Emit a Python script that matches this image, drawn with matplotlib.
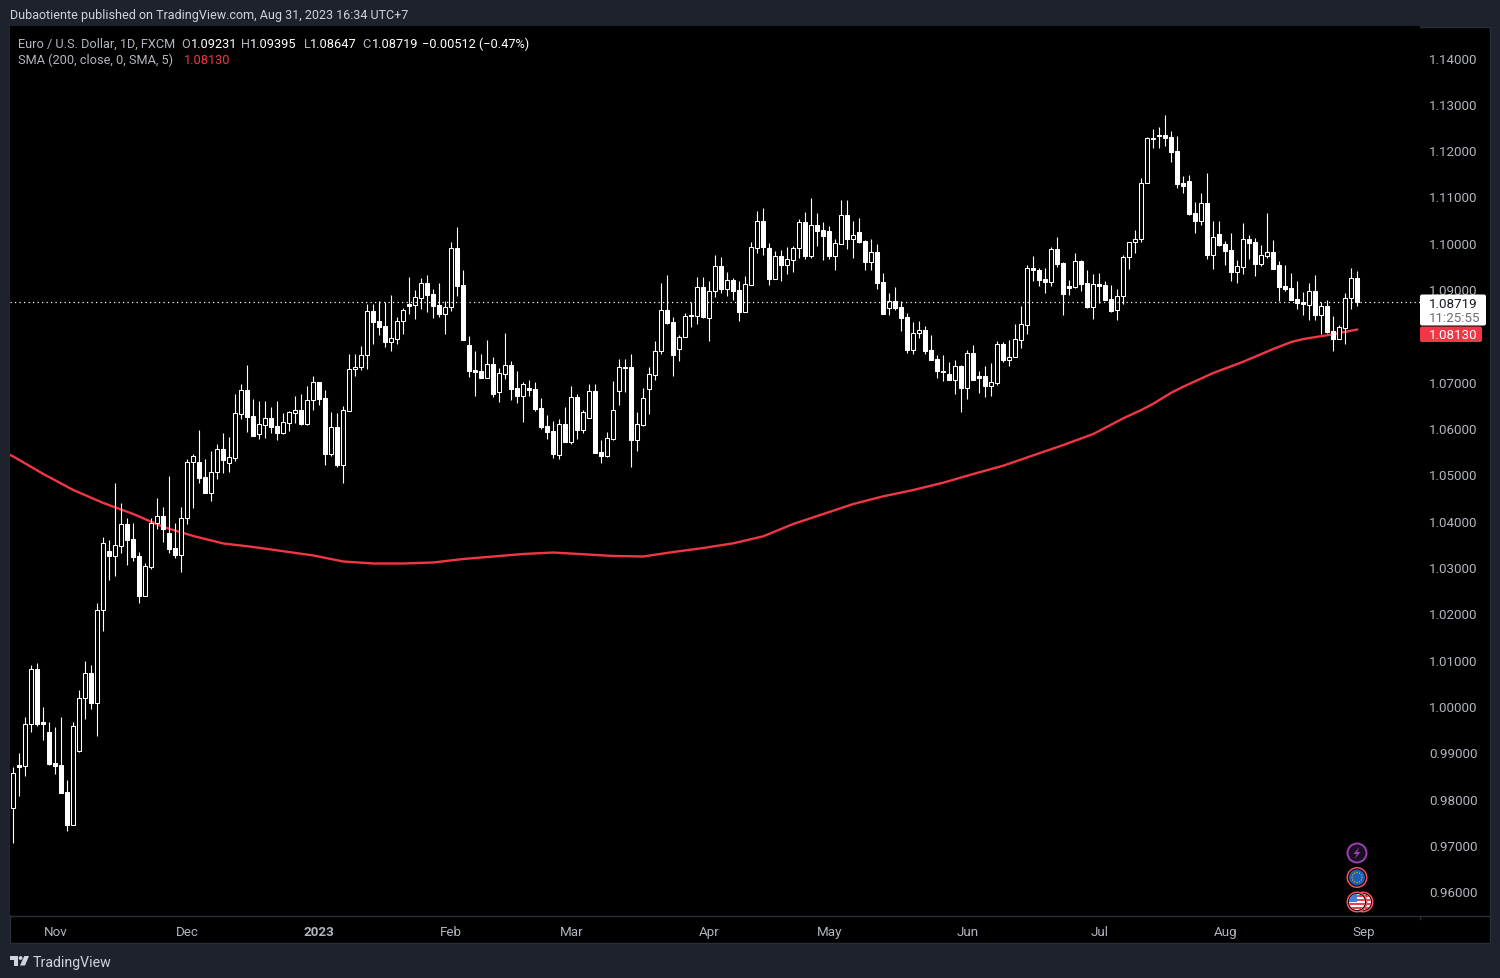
import matplotlib
matplotlib.use("Agg")
import matplotlib.pyplot as plt
from matplotlib.patches import Rectangle, Circle, Polygon, FancyBboxPatch

opens = [0.97810,0.98723,0.98716,0.99608,1.00795,0.99651,0.99436,0.98767,0.98723,0.98141,
0.97443,0.99040,1.00169,1.00709,1.00076,1.02069,1.03342,1.03248,1.03464,1.03925,
1.03601,1.03234,1.02385,1.03011,1.03946,1.04097,1.03730,1.03407,1.03270,1.04054,
1.05263,1.05263,1.04939,1.04608,1.05047,1.05543,1.05256,1.05363,1.06313,1.06816,
1.06255,1.05881,1.06075,1.06212,1.06039,1.05903,1.06118,1.06334,1.06385,1.06097,
1.06600,1.06989,1.06644,1.05449,1.06018,1.05212,1.06377,1.07270,1.07327,1.07572,
1.08521,1.08305,1.08198,1.07867,1.07931,1.08305,1.08672,1.08665,1.08816,1.09126,
1.08888,1.08651,1.08471,1.08608,1.09881,1.09082,1.07787,1.07248,1.07226,1.07090,
1.07377,1.06788,1.07176,1.07356,1.06859,1.06701,1.06859,1.06838,1.06428,1.06039,
1.05931,1.05428,1.06082,1.05708,1.06665,1.05967,1.06226,1.06795,1.05478,1.05406,
1.05773,1.06809,1.07313,1.07313,1.05752,1.06075,1.06852,1.07154,1.07658,1.08543,
1.08284,1.07716,1.07960,1.08435,1.08428,1.09040,1.08385,1.08953,1.09493,1.09011,
1.09191,1.08975,1.08515,1.09097,1.09896,1.10464,1.09881,1.09227,1.09709,1.09529,
1.09637,1.09896,1.10443,1.09723,1.10378,1.10270,1.10248,1.09723,1.09982,1.10594,
1.10090,1.10227,1.10033,1.09594,1.09795,1.09148,1.08601,1.08738,1.08608,1.08392,
1.07694,1.08047,1.08111,1.07680,1.07485,1.07241,1.07162,1.07046,1.07334,1.06874,
1.07615,1.07118,1.07118,1.06917,1.06982,1.07809,1.07464,1.07543,1.07910,1.08233,
1.09449,1.09406,1.09212,1.09162,1.09859,1.09557,1.09061,1.09054,1.09600,1.09126,
1.08622,1.09104,1.09082,1.08780,1.08543,1.08859,1.09687,1.10010,1.10075,1.11284,
1.12262,1.12327,1.12327,1.12277,1.11974,1.11284,1.11327,1.10636,1.10478,1.10852,
1.09744,1.10183,1.09967,1.09838,1.09377,1.09485,1.10075,1.10010,1.09550,1.09723,
1.09795,1.09514,1.09061,1.09018,1.08780,1.08715,1.08651,1.08953,1.08449,1.08629,
1.08090,1.07931,1.08169,1.08802,1.09231]

closes = [0.98551,0.98695,0.99608,1.00795,0.99615,0.99623,0.98759,0.98716,0.98134,0.97443,
0.99565,1.00169,1.00709,1.00076,1.02069,1.03515,1.03248,1.03471,1.03925,1.03594,
1.03227,1.02385,1.03018,1.03946,1.04097,1.03831,1.03400,1.03270,1.04054,1.05263,
1.05392,1.04932,1.04608,1.05047,1.05543,1.05320,1.05371,1.06320,1.06816,1.06241,
1.05838,1.06082,1.06212,1.06032,1.05903,1.06126,1.06341,1.06385,1.06097,1.06600,
1.06989,1.06629,1.05449,1.06018,1.05205,1.06385,1.07270,1.07327,1.07572,1.08521,
1.08298,1.08190,1.07867,1.07939,1.08305,1.08543,1.08644,1.08823,1.09126,1.08881,
1.08644,1.08471,1.08608,1.09881,1.09075,1.07910,1.07241,1.07219,1.07090,1.07377,
1.06744,1.07183,1.07356,1.06852,1.06701,1.06946,1.06831,1.06421,1.06032,1.05924,
1.05449,1.06082,1.05708,1.06665,1.05967,1.06341,1.06795,1.05471,1.05406,1.05780,
1.06385,1.07313,1.07298,1.05752,1.06082,1.06644,1.07162,1.07658,1.08543,1.08277,
1.07586,1.07960,1.08413,1.08413,1.09039,1.08407,1.08953,1.09493,1.09011,1.09191,
1.08968,1.08515,1.09105,1.09903,1.10464,1.09917,1.09227,1.09709,1.09529,1.09644,
1.09881,1.10443,1.09723,1.10378,1.10263,1.10155,1.09723,1.09989,1.10594,1.10090,
1.10162,1.10025,1.09594,1.09795,1.09140,1.08471,1.08738,1.08601,1.08385,1.07694,
1.08047,1.08112,1.07672,1.07478,1.07241,1.07219,1.07046,1.07334,1.06874,1.07615,
1.07046,1.07090,1.06917,1.06989,1.07809,1.07478,1.07543,1.07917,1.08241,1.09449,
1.09406,1.09205,1.09162,1.09859,1.09550,1.08903,1.09032,1.09600,1.09118,1.08608,
1.09104,1.09075,1.08773,1.08536,1.08859,1.09687,1.10010,1.10075,1.11284,1.12255,
1.12248,1.12312,1.12262,1.11967,1.11277,1.11226,1.10629,1.10478,1.10852,1.09744,
1.10118,1.09960,1.09831,1.09377,1.09492,1.10075,1.10003,1.09550,1.09730,1.09795,
1.09442,1.09054,1.09010,1.08773,1.08708,1.08672,1.08953,1.08449,1.08629,1.08082,
1.07931,1.08176,1.08802,1.09233,1.08719]

highs = [0.98680,0.98990,0.99759,1.00889,1.00932,0.99975,0.99651,0.99544,0.99759,0.98407,
0.99651,1.00349,1.00968,1.00882,1.02220,1.03644,1.03579,1.04810,1.04378,1.04054,
1.03946,1.03320,1.03083,1.04054,1.04486,1.04292,1.04961,1.03946,1.04292,1.05328,
1.05443,1.05953,1.05328,1.05500,1.05651,1.05889,1.05802,1.06730,1.06946,1.07363,
1.06622,1.06579,1.06579,1.06449,1.06579,1.06320,1.06370,1.06687,1.06730,1.06903,
1.07118,1.06989,1.06816,1.06341,1.06320,1.06471,1.07593,1.07593,1.07766,1.08672,
1.08672,1.08737,1.08715,1.08867,1.08392,1.08586,1.09255,1.08974,1.09233,1.09298,
1.08996,1.09126,1.08737,1.10010,1.10334,1.09406,1.07982,1.07658,1.07593,1.07895,
1.07528,1.07291,1.08046,1.07442,1.07226,1.06989,1.07032,1.06989,1.06644,1.06277,
1.06147,1.06190,1.06449,1.06903,1.06730,1.06385,1.06946,1.06946,1.05737,1.05910,
1.07011,1.07485,1.07485,1.07593,1.06341,1.06859,1.07313,1.07874,1.09126,1.09298,
1.08392,1.08003,1.08478,1.08715,1.09255,1.09256,1.09169,1.09730,1.09687,1.09363,
1.09234,1.09169,1.09277,1.10011,1.10680,1.10745,1.09989,1.09817,1.09838,1.09903,
1.09925,1.10507,1.10658,1.10961,1.10637,1.10443,1.10356,1.10076,1.10917,1.10917,
1.10464,1.10529,1.10054,1.10076,1.09968,1.09342,1.08910,1.09040,1.08738,1.08479,
1.08284,1.08306,1.08198,1.08003,1.07572,1.07572,1.07421,1.07464,1.07356,1.07680,
1.07787,1.07226,1.07334,1.07399,1.07874,1.07852,1.07895,1.08241,1.08629,1.09514,
1.09708,1.09449,1.09449,1.09902,1.10118,1.09579,1.09190,1.09773,1.09622,1.09406,
1.09320,1.09341,1.09169,1.09082,1.08996,1.09730,1.10010,1.10269,1.11392,1.12277,
1.12449,1.12492,1.12751,1.12406,1.12298,1.11435,1.11456,1.10874,1.11068,1.11500,
1.10464,1.10464,1.10032,1.10205,1.09622,1.10420,1.10161,1.10097,1.09946,1.10636,
1.10054,1.09600,1.09514,1.09341,1.09169,1.08931,1.09126,1.09298,1.08715,1.08759,
1.08413,1.08219,1.08910,1.09449,1.09395]

lows = [0.97047,0.98069,0.98500,0.99450,0.99580,0.99277,0.98738,0.98544,0.98134,0.97313,
0.97443,0.99018,0.99723,0.99939,0.99364,1.01630,1.02730,1.02817,1.03306,1.03054,
1.03141,1.02234,1.02385,1.02968,1.03831,1.03551,1.03313,1.03205,1.02903,1.03932,
1.04284,1.04824,1.04608,1.04435,1.04910,1.05040,1.05061,1.05298,1.06198,1.05917,
1.05838,1.05766,1.05795,1.05895,1.05752,1.05881,1.05939,1.06118,1.06075,1.06075,
1.06399,1.06500,1.05205,1.05406,1.05169,1.04824,1.06377,1.07133,1.07262,1.07284,
1.07823,1.08018,1.07752,1.07672,1.07823,1.08039,1.08471,1.08363,1.08579,1.08514,
1.08385,1.08406,1.08039,1.08536,1.08859,1.07910,1.07111,1.06701,1.07090,1.07090,
1.06680,1.06572,1.07068,1.06615,1.06550,1.06140,1.06701,1.06377,1.05989,1.05773,
1.05363,1.05342,1.05708,1.05665,1.05773,1.05903,1.06226,1.05471,1.05255,1.05385,
1.05752,1.06507,1.06788,1.05169,1.05514,1.06054,1.06313,1.07046,1.07608,1.08255,
1.07133,1.07457,1.07960,1.08190,1.08255,1.08385,1.07889,1.08838,1.08925,1.08860,
1.08774,1.08320,1.08515,1.09097,1.09781,1.09745,1.09097,1.09227,1.09184,1.09335,
1.09378,1.09680,1.09658,1.09680,1.09939,1.09637,1.09658,1.09421,1.09982,1.09874,
1.09680,1.10004,1.09421,1.09421,1.09011,1.08471,1.08450,1.08558,1.08105,1.07630,
1.07608,1.07953,1.07608,1.07478,1.07090,1.07025,1.07046,1.06744,1.06356,1.06636,
1.07046,1.06766,1.06680,1.06701,1.06939,1.07435,1.07349,1.07543,1.07737,1.08039,
1.09183,1.09075,1.08924,1.09075,1.09485,1.08449,1.08881,1.09032,1.08967,1.08586,
1.08363,1.08694,1.08773,1.08514,1.08341,1.08687,1.09442,1.09787,1.10025,1.11284,
1.12046,1.12046,1.12089,1.11751,1.11190,1.11082,1.10607,1.10219,1.10392,1.09658,
1.09442,1.09938,1.09528,1.09183,1.09140,1.09334,1.09658,1.09291,1.09507,1.09679,
1.09442,1.08751,1.08967,1.08773,1.08579,1.08449,1.08341,1.08341,1.08039,1.08061,
1.07672,1.07931,1.07823,1.08564,1.08647]

sma_index = [-1,0,5,10,15,20,25,30,35,40,50,55,60,65,70,75,85,90,100,105,110,115,120,125,130,135,
             140,145,150,155,160,165,170,175,180,185,188,190,193,195,200,205,210,213,215,220,224]
sma_values = [1.0545,1.05388,1.05011,1.04665,1.04385,1.04147,1.03867,1.03672,1.03511,1.03435,1.03252,
              1.03122,1.03079,1.03079,1.03101,1.03176,1.03284,1.03316,1.03241,1.0323,1.03327,1.03413,
              1.03515,1.03666,1.03932,1.04147,1.04363,1.04529,1.04665,1.04823,1.05011,1.0519,1.05414,
              1.05636,1.05874,1.06213,1.06392,1.06528,1.06765,1.06895,1.07191,1.07434,1.07709,1.0786,
              1.07924,1.08026,1.0813]

price_ticks = [0.96,0.97,0.98,0.99,1.00,1.01,1.02,1.03,1.04,1.05,1.06,1.07,1.08,1.09,1.10,1.11,1.12,1.13,1.14]
month_positions = [7,29,51,73,93,116,136,159,181,202,225]
month_labels = ["Nov","Dec","2023","Feb","Mar","Apr","May","Jun","Jul","Aug","Sep"]

BG = "#1e222d"; LINE = "#2a2e39"; GREY = "#b2b5be"; LIGHT = "#d1d4dc"; RED = "#f23645"
plt.rcParams["font.family"] = ["Roboto", "DejaVu Sans"]

W, H = 1500, 979
fig = plt.figure(figsize=(W/100, H/100), dpi=100, facecolor=BG)
fig.add_artist(Rectangle((10/W, 1-943.5/H), 1480/W, 916/H, transform=fig.transFigure,
                         facecolor="black", edgecolor=LINE, linewidth=1, zorder=-5))

ax = fig.add_axes([10/W, 1-916/H, 1410/W, 889/H], facecolor="black")
ax.set_xlim(-0.55, 234.45)
ax.set_ylim(0.95492, 1.14680)
for s in ax.spines.values():
    s.set_visible(False)

xs = list(range(len(opens)))
ax.plot(sma_index, sma_values, color=RED, lw=1.7, zorder=2, solid_capstyle="round")
ax.vlines(xs, lows, highs, color="white", lw=0.8, zorder=3)
bottoms = [min(o, c) for o, c in zip(opens, closes)]
heights = [abs(c - o) for o, c in zip(opens, closes)]
faces = ["black" if c > o else "white" for o, c in zip(opens, closes)]
ax.bar(xs, heights, bottom=bottoms, width=0.68, color=faces, edgecolor="white", linewidth=0.75, zorder=4)
ax.axhline(closes[-1], color="white", lw=0.9, ls=(0, (1, 2.6)), zorder=5)

ax.yaxis.tick_right()
ax.set_yticks(price_ticks, [f"{p:.5f}" for p in price_ticks])
ax.set_xticks(month_positions, month_labels)
ax.tick_params(axis="y", length=0, pad=6.5, labelsize=9.6, labelcolor=GREY)
ax.tick_params(axis="x", length=0, pad=7.5, labelsize=9.6, labelcolor=GREY)
ax.get_xticklabels()[2].set_fontweight("bold")

# chrome in figure pixels
ov = fig.add_axes([0, 0, 1, 1], facecolor="none", zorder=10)
ov.set_xlim(0, W); ov.set_ylim(H, 0); ov.axis("off")
ov.plot([10, 1490], [916.5, 916.5], color=LINE, lw=1)
ov.plot([1420, 1420], [916.5, 919.5], color=LINE, lw=1)

def t(x, y, s, color=GREY, size=9.2, **kw):
    ov.text(x, y, s, color=color, fontsize=size, va="center", ha="left", **kw)

t(10, 16, "Dubaotiente published on TradingView.com, Aug 31, 2023 16:34 UTC+7", LIGHT, 9.0)
t(18, 44, "Euro / U.S. Dollar, 1D, FXCM", GREY)
for x, xv, lab, val in [(181, 190.5, "O", "1.09231"), (241.5, 250, "H", "1.09395"),
                        (304, 310, "L", "1.08647"), (362.5, 372, "C", "1.08719")]:
    t(x, 44, lab, GREY)
    t(xv, 44, val, "white")
t(422, 44, "\u22120.00512 (\u22120.47%)", "white")
t(18, 60.5, "SMA (200, close, 0, SMA, 5)", GREY)
t(184, 60.5, "1.08130", RED)

ov.add_patch(FancyBboxPatch((1420, 295.5), 66, 31, boxstyle="round,pad=0,rounding_size=2", fc="white", ec="none"))
ov.add_patch(FancyBboxPatch((1420, 327.5), 62, 15.5, boxstyle="round,pad=0,rounding_size=2", fc=RED, ec="none"))
t(1429, 304.5, "1.08719", "#131722", 9.6)
t(1429, 318.5, "11:25:55", "#6a6d78", 9.6)
t(1429, 336, "1.08130", "white", 9.6)

# event icons
ov.add_patch(Circle((1357, 854), 9.5, fc="#1a0f22", ec="#9c3fb0", lw=1.4))
ov.add_patch(Polygon([(1359.5, 848), (1353.5, 855), (1356.8, 855), (1354.5, 860), (1360.5, 853), (1357.2, 853)],
                     fc="#9c3fb0", ec="none"))
ov.add_patch(Circle((1357, 878.5), 10.5, fc="#f7525f", ec="none"))
ov.add_patch(Circle((1357, 878.5), 9, fc="black", ec="none"))
ov.add_patch(Circle((1357, 878.5), 8, fc="#1e5fb4", ec="none"))
for dx, dy in [(0, -5), (2.5, -4.3), (4.3, -2.5), (5, 0), (4.3, 2.5), (2.5, 4.3), (0, 5),
               (-2.5, 4.3), (-4.3, 2.5), (-5, 0), (-4.3, -2.5), (-2.5, -4.3)]:
    ov.add_patch(Circle((1357 + dx, 878.5 + dy), 0.6, fc="#f5c518", ec="none"))

def flag(cx, cy):
    ov.add_patch(Circle((cx, cy), 10.5, fc="#f7525f", ec="none", zorder=3))
    ov.add_patch(Circle((cx, cy), 9, fc="black", ec="none", zorder=3))
    clip = Circle((cx, cy), 8, transform=ov.transData)
    ov.add_patch(Rectangle((cx - 8, cy - 8), 16, 16, fc="white", ec="none", zorder=3, clip_path=clip))
    for k in range(4):
        ov.add_patch(Rectangle((cx - 8, cy - 7.5 + k * 4), 16, 2, fc="#e8424f", ec="none", zorder=3, clip_path=clip))
    ov.add_patch(Rectangle((cx - 8, cy - 8), 8, 8, fc="#3f7fd6", ec="none", zorder=3, clip_path=clip))

flag(1363, 903)
flag(1357, 903)

# TradingView logo
ov.add_patch(Polygon([(10, 957), (18, 957), (18, 966.5), (14, 966.5), (14, 960.5), (10, 960.5)], fc=LIGHT, ec="none"))
ov.add_patch(Circle((20.6, 959), 1.9, fc=LIGHT, ec="none"))
ov.add_patch(Polygon([(24.3, 957), (29, 957), (25, 966.5), (20, 966.5)], fc=LIGHT, ec="none"))
t(33, 963, "TradingView", LIGHT, 10.2)

fig.savefig("out.png", dpi=100, facecolor=BG)
